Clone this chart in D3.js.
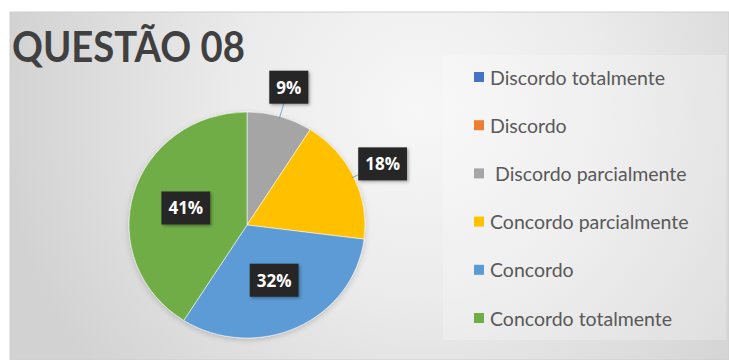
<!DOCTYPE html>
<html><head><meta charset="utf-8">
<script src="https://cdn.jsdelivr.net/npm/d3@7"></script>
<style>body{margin:0;background:#fff}svg{display:block}</style>
</head><body>
<script>
const title = "QUESTÃO 08";
const categories = ["Discordo totalmente","Discordo"," Discordo parcialmente","Concordo parcialmente","Concordo","Concordo totalmente"];
const values = [0,0,9,18,32,41];
const labels = ["0%","0%","9%","18%","32%","41%"];
const colors = ["#4472C4","#ED7D31","#A5A5A5","#FFC000","#5B9BD5","#70AD47"];

const W = 729, H = 360;
const svg = d3.select("body").append("svg").attr("width", W).attr("height", H);
const defs = svg.append("defs");

const bg = defs.append("radialGradient").attr("id","bg")
  .attr("gradientUnits","userSpaceOnUse").attr("cx",420).attr("cy",110).attr("r",420);
bg.append("stop").attr("offset","0%").attr("stop-color","#f7f7f7");
bg.append("stop").attr("offset","45%").attr("stop-color","#ebebeb");
bg.append("stop").attr("offset","100%").attr("stop-color","#d2d2d2");

const sh = defs.append("filter").attr("id","sh").attr("x","-30%").attr("y","-30%").attr("width","160%").attr("height","160%");
sh.append("feDropShadow").attr("dx",1.5).attr("dy",1.5).attr("stdDeviation",1.5).attr("flood-color","#000").attr("flood-opacity",0.35);
const psh = defs.append("filter").attr("id","psh").attr("x","-20%").attr("y","-20%").attr("width","140%").attr("height","140%");
psh.append("feDropShadow").attr("dx",0).attr("dy",2).attr("stdDeviation",3).attr("flood-color","#000").attr("flood-opacity",0.18);

// chart area
svg.append("rect").attr("x",10).attr("y",12).attr("width",W-10).attr("height",H-12)
  .attr("fill","url(#bg)").attr("stroke","#cfcfcf").attr("stroke-width",1);

// title
svg.append("text").attr("x",12).attr("y",62).text(title)
  .attr("font-family","Lato, 'Open Sans', sans-serif").attr("font-size",42).attr("font-weight","bold")
  .attr("fill","#404040").attr("textLength",233).attr("lengthAdjust","spacingAndGlyphs");

// legend box
svg.append("rect").attr("x",443).attr("y",55).attr("width",283).attr("height",285)
  .attr("fill","#ffffff").attr("fill-opacity",0.22);

// pie
const cx = 247, cy = 225, rx = 118, ry = 113;
const pie = d3.pie().sort(null).value(d => d).startAngle(0).endAngle(2*Math.PI);
const arcs = pie(values);
const arc = d3.arc().innerRadius(0).outerRadius(rx);
const g = svg.append("g").attr("transform", `translate(${cx},${cy}) scale(1,${ry/rx})`).attr("filter","url(#psh)");
g.selectAll("path").data(arcs).join("path")
  .attr("d", arc).attr("fill", (d,i) => colors[i])
  .attr("stroke", d => d.value > 0 ? "#ffffff" : "none").attr("stroke-width", 0.8).attr("stroke-opacity",0.7);

// data labels (centroid = mean of inner and outer radius)
const inArc = d3.arc().innerRadius(0).outerRadius(rx*1.08);
const outArc = d3.arc().innerRadius(rx*1.27).outerRadius(rx*1.27);
const edgeArc = d3.arc().innerRadius(rx*0.98).outerRadius(rx*0.98);
const lab = svg.append("g");
arcs.forEach((d,i) => {
  if (d.value <= 0) return;
  const outside = d.value < 20;
  let [x,y] = (outside ? outArc : inArc).centroid(d);
  y *= ry/rx;
  const px = cx + x, py = cy + y;
  if (outside) {
    let [ex,ey] = edgeArc.centroid(d);
    ey *= ry/rx;
    lab.append("line").attr("x1",cx+ex).attr("y1",cy+ey).attr("x2",px).attr("y2",py)
      .attr("stroke","#5B9BD5").attr("stroke-width",1).attr("stroke-opacity",0.8);
  }
  const t = lab.append("text").attr("x",px).attr("y",py).text(labels[i])
    .attr("font-family","'Open Sans', Lato, sans-serif").attr("font-weight","bold").attr("font-size",17)
    .attr("fill","#ffffff").attr("text-anchor","middle").attr("dominant-baseline","central");
  const bw = t.node().getComputedTextLength() + 14, bh = 33;
  lab.insert("rect", () => t.node()).attr("x",px-bw/2).attr("y",py-bh/2).attr("width",bw).attr("height",bh)
    .attr("fill","#262626").attr("filter","url(#sh)");
});

// legend
const ly = d3.scalePoint().domain(categories).range([77, 318]);
const leg = svg.append("g");
categories.forEach((c,i) => {
  const y = ly(c);
  leg.append("rect").attr("x",474).attr("y",y-5).attr("width",10).attr("height",10).attr("fill",colors[i]);
  leg.append("text").attr("x",490).attr("y",y).attr("dominant-baseline","central")
    .style("white-space","pre").text(c)
    .attr("font-family","Lato, 'Open Sans', sans-serif").attr("font-size",19.5).attr("fill","#595959");
});
</script>
</body></html>
